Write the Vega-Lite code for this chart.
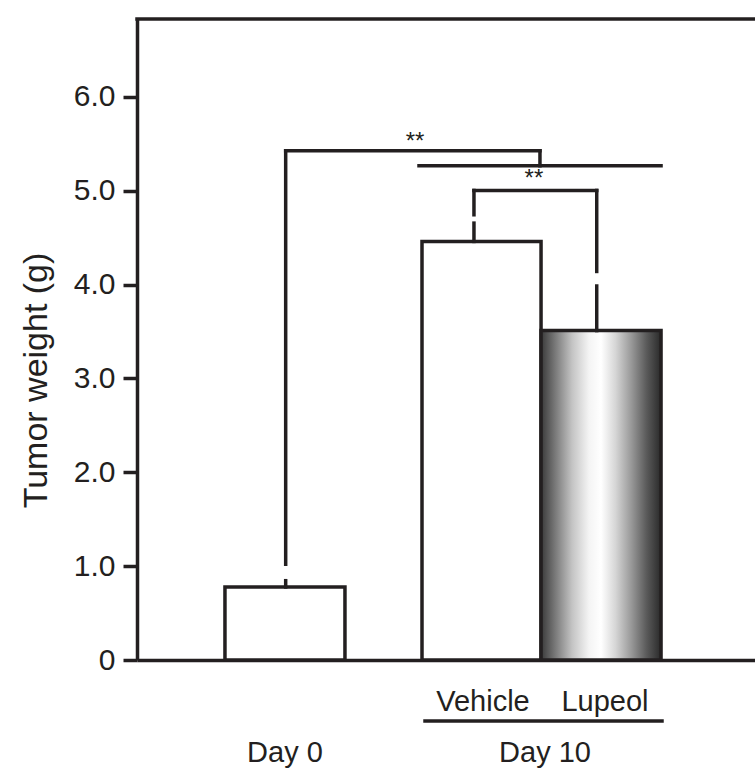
{
  "$schema": "https://vega.github.io/schema/vega-lite/v6.json",
  "width": 618,
  "height": 641,
  "autosize": "none",
  "padding": {"left": 137, "top": 19, "right": 0, "bottom": 110},
  "background": "white",
  "config": {"view": {"stroke": null}, "font": "Liberation Sans"},
  "datasets": {
    "bars": [
      {"group": "Day 0", "x0": 0.733, "x1": 1.733, "weight": 0.778},
      {"group": "Vehicle", "x0": 2.375, "x1": 3.367, "weight": 4.46},
      {"group": "Lupeol", "x0": 3.367, "x1": 4.367, "weight": 3.51}
    ],
    "segments": [
      {"x": 1.239, "x2": 1.239, "y": 0.778, "y2": 0.845},
      {"x": 1.239, "x2": 1.239, "y": 1.02, "y2": 5.426},
      {"x": 1.239, "x2": 3.358, "y": 5.426, "y2": 5.426},
      {"x": 3.358, "x2": 3.358, "y": 5.426, "y2": 5.266},
      {"x": 2.35, "x2": 4.367, "y": 5.266, "y2": 5.266},
      {"x": 2.808, "x2": 2.808, "y": 4.46, "y2": 4.655},
      {"x": 2.808, "x2": 2.808, "y": 4.744, "y2": 5.003},
      {"x": 2.808, "x2": 3.831, "y": 5.003, "y2": 5.003},
      {"x": 3.831, "x2": 3.831, "y": 5.003, "y2": 4.14},
      {"x": 3.831, "x2": 3.831, "y": 3.985, "y2": 3.51},
      {"x": 2.4, "x2": 4.375, "y": -0.65, "y2": -0.65},
      {"x": 0, "x2": 5.15, "y": 6.83, "y2": 6.83}
    ],
    "labels": [
      {"label": "Vehicle", "x": 2.883, "y": -0.54},
      {"label": "Lupeol", "x": 3.9, "y": -0.54},
      {"label": "Day 0", "x": 1.233, "y": -1.09},
      {"label": "Day 10", "x": 3.4, "y": -1.09}
    ],
    "stars": [
      {"label": "**", "x": 2.317, "y": 5.52},
      {"label": "**", "x": 3.308, "y": 5.128}
    ]
  },
  "layer": [
    {
      "data": {"name": "bars"},
      "transform": [{"filter": "datum.group !== 'Lupeol'"}],
      "mark": {"type": "rect", "fill": "white", "stroke": "#231f20", "strokeWidth": 3.5},
      "encoding": {
        "x": {"field": "x0", "type": "quantitative", "scale": {"domain": [0, 5.15], "nice": false, "zero": false},
              "axis": {"domain": true, "domainWidth": 3.5, "domainColor": "#231f20", "ticks": false, "labels": false, "grid": false, "title": null}},
        "x2": {"field": "x1"},
        "y": {"field": "weight", "type": "quantitative", "scale": {"domain": [0, 6.83], "nice": false},
              "axis": {"values": [0, 1, 2, 3, 4, 5, 6], "grid": false, "domainWidth": 3.5, "domainColor": "#231f20",
                       "tickSize": 14, "tickWidth": 3.5, "tickColor": "#231f20",
                       "labelFontSize": 30, "labelColor": "#231f20", "labelPadding": 8, "labelFont": "Liberation Sans",
                       "labelExpr": "datum.value === 0 ? '0' : format(datum.value, '.1f')",
                       "title": "Tumor weight (g)", "titleFontSize": 34, "titleFontWeight": "normal", "titleColor": "#231f20",
                       "titleFont": "Liberation Sans", "titleAngle": -90, "titleX": -91, "titleY": 361, "titleAlign": "center", "titleBaseline": "alphabetic"}},
        "y2": {"datum": 0}
      }
    },
    {
      "data": {"name": "bars"},
      "transform": [{"filter": "datum.group === 'Lupeol'"}],
      "mark": {"type": "rect", "stroke": "#231f20", "strokeWidth": 3.5,
               "fill": {"gradient": "linear", "x1": 0, "y1": 0, "x2": 1, "y2": 0,
                        "stops": [
                          {"offset": 0, "color": "#3a3a3a"},
                          {"offset": 0.12, "color": "#7a7a7a"},
                          {"offset": 0.26, "color": "#c4c4c4"},
                          {"offset": 0.4, "color": "#f4f4f4"},
                          {"offset": 0.5, "color": "#ffffff"},
                          {"offset": 0.62, "color": "#d6d6d6"},
                          {"offset": 0.75, "color": "#9a9a9a"},
                          {"offset": 0.88, "color": "#5a5a5a"},
                          {"offset": 1, "color": "#2a2a2a"}
                        ]}},
      "encoding": {
        "x": {"field": "x0", "type": "quantitative"},
        "x2": {"field": "x1"},
        "y": {"field": "weight", "type": "quantitative"},
        "y2": {"datum": 0}
      }
    },
    {
      "data": {"name": "segments"},
      "mark": {"type": "rule", "stroke": "#231f20", "strokeWidth": 3.5, "strokeCap": "square"},
      "encoding": {
        "x": {"field": "x", "type": "quantitative"},
        "x2": {"field": "x2"},
        "y": {"field": "y", "type": "quantitative"},
        "y2": {"field": "y2"}
      }
    },
    {
      "data": {"name": "labels"},
      "mark": {"type": "text", "fontSize": 29, "font": "Liberation Sans", "color": "#231f20", "align": "center", "baseline": "alphabetic"},
      "encoding": {
        "x": {"field": "x", "type": "quantitative"},
        "y": {"field": "y", "type": "quantitative"},
        "text": {"field": "label"}
      }
    },
    {
      "data": {"name": "stars"},
      "mark": {"type": "text", "fontSize": 24, "font": "Liberation Sans", "color": "#231f20", "align": "center", "baseline": "middle"},
      "encoding": {
        "x": {"field": "x", "type": "quantitative"},
        "y": {"field": "y", "type": "quantitative"},
        "text": {"field": "label"}
      }
    }
  ]
}
